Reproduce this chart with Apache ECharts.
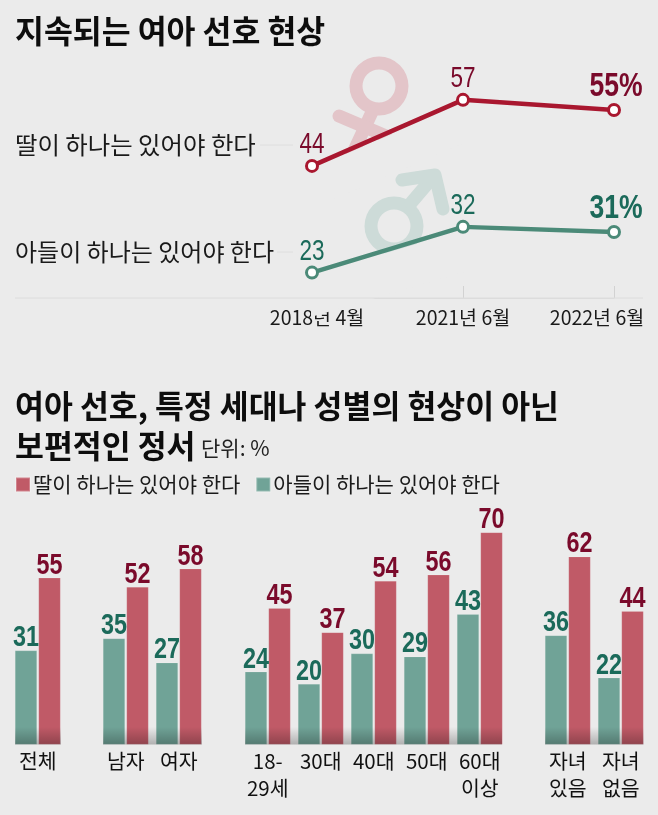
<!DOCTYPE html>
<html><head><meta charset="utf-8">
<style>html,body{margin:0;padding:0;background:#ebebeb}#c{width:658px;height:815px}</style>
<script src="https://cdn.jsdelivr.net/npm/echarts@6/dist/echarts.min.js"></script>
</head><body><div id="c"></div>
<script>
const DAUGHTER = '딸이 하나는 있어야 한다';
const SON = '아들이 하나는 있어야 한다';
const periods = ['2018년 4월', '2021년 6월', '2022년 6월'];
const trendDaughter = [44, 57, 55];
const trendSon = [23, 32, 31];

const totalCats = ['전체'];
const totalSon = [31];
const totalDaughter = [55];
const genderCats = ['남자', '여자'];
const genderSon = [35, 27];
const genderDaughter = [52, 58];
const ageCats = ['18-\n29세', '30대', '40대', '50대', '60대\n이상'];
const ageSon = [24, 20, 30, 29, 43];
const ageDaughter = [45, 37, 54, 56, 70];
const childCats = ['자녀\n있음', '자녀\n없음'];
const childSon = [36, 22];
const childDaughter = [62, 44];

const BG = '#ebebeb';
const KR = '"Noto Sans CJK KR",sans-serif';
const RED_TXT = '#7a0a2b', GREEN_TXT = '#1b6a5a';

const groups = [
  {cats: totalCats, son: totalSon, dau: totalDaughter, left: 11.25},
  {cats: genderCats, son: genderSon, dau: genderDaughter, left: 99.25},
  {cats: ageCats, son: ageSon, dau: ageDaughter, left: 241.25},
  {cats: childCats, son: childSon, dau: childDaughter, left: 541.25}
];
const grids = [{left: 312, width: 302, top: 64.3, height: 233.7}];
const xAxes = [{
  gridIndex: 0, type: 'category', boundaryGap: false,
  data: [
    {value: periods[0], textStyle: {padding: [0, 0, 0, 10]}},
    {value: periods[1]},
    {value: periods[2], textStyle: {padding: [0, 34, 0, 0]}}
  ],
  axisLine: {lineStyle: {color: '#dcdcdc', width: 1}},
  axisTick: {inside: true, length: 12, lineStyle: {color: '#d2d2d2'}},
  axisLabel: {interval: 0, margin: 10, hideOverlap: false, fontFamily: KR, fontSize: 19.5, color: '#1a1a1a'}
}];
const yAxes = [{gridIndex: 0, type: 'value', min: 18, max: 64, show: false}];

/* condensed number labels: the reference type is narrow, so text is squeezed horizontally */
const textItem = (cx, cy, text, font, fill, sx) => ({
  type: 'text', x: cx, y: cy, scaleX: sx, silent: true,
  style: {text, font, fill, align: 'center', verticalAlign: 'middle'}
});
const trendLabels = (name, vals, color) => ({
  name, type: 'custom', xAxisIndex: 0, yAxisIndex: 0, z: 6, animation: false, silent: true,
  data: vals.map((v, i) => [i, v]),
  renderItem: (params, api) => {
    const p = api.coord([api.value(0), api.value(1)]);
    const last = api.value(0) === vals.length - 1;
    return last
      ? textItem(p[0] + 2, p[1] - 23.5, api.value(1) + '%', 'bold 34px "Liberation Sans"', color, 0.78)
      : textItem(p[0], p[1] - 21, String(api.value(1)), '30px "Liberation Sans"', color, 0.75);
  }
});
const lineSeries = (name, vals, color) => ({
  name, type: 'line', xAxisIndex: 0, yAxisIndex: 0, data: vals,
  symbol: 'circle', symbolSize: 11, showSymbol: true,
  lineStyle: {color, width: 4.5},
  itemStyle: {color: '#fff', borderColor: color, borderWidth: 3},
  z: 5, animation: false
});
const series = [
  lineSeries('딸 추이', trendDaughter, '#a9172f'),
  lineSeries('아들 추이', trendSon, '#4b8a78'),
  trendLabels('딸 수치', trendDaughter, RED_TXT),
  trendLabels('아들 수치', trendSon, GREEN_TXT)
];
const barSeries = (name, vals, idx, color) => ({
  name, type: 'bar', xAxisIndex: idx, yAxisIndex: idx, data: vals,
  barWidth: 22, barGap: '7%', animation: false,
  itemStyle: {color, borderColor: 'rgba(255,255,255,0.25)', borderWidth: 0.5}
});
const barLabels = (name, vals, idx, color, dx) => ({
  name, type: 'custom', xAxisIndex: idx, yAxisIndex: idx, z: 6, animation: false, silent: true,
  data: vals.map((v, i) => [i, v]),
  renderItem: (params, api) => {
    const p = api.coord([api.value(0), api.value(1)]);
    return textItem(p[0] + dx, p[1] - 12.5, String(api.value(1)), 'bold 30px "Liberation Sans"', color, 0.78);
  }
});
groups.forEach((g, k) => {
  const idx = k + 1;
  grids.push({left: g.left, width: 53 * g.cats.length, top: 502.1, height: 242.4});
  xAxes.push({
    gridIndex: idx, type: 'category', data: g.cats,
    axisLine: {show: false}, axisTick: {show: false},
    axisLabel: {interval: 0, margin: 3, fontFamily: KR, fontSize: 20.5, lineHeight: 27, color: '#111', hideOverlap: false}
  });
  yAxes.push({gridIndex: idx, type: 'value', min: 0, max: 80, show: false});
  series.push(barSeries(SON, g.son, idx, '#70a397'));
  series.push(barSeries(DAUGHTER, g.dau, idx, '#c05a67'));
  series.push(barLabels('아들 수치 ' + k, g.son, idx, GREEN_TXT, -11.75));
  series.push(barLabels('딸 수치 ' + k, g.dau, idx, RED_TXT, 11.75));
});

const txt = (x, y, text, size, color) => ({
  type: 'text', x, y, z: 6, style: {text, fontSize: size, fontFamily: KR, fill: color, verticalAlign: 'middle'}
});
const shade = (x, w) => ({
  type: 'rect', z: 10, silent: true, shape: {x, y: 727, width: w, height: 17.5},
  style: {fill: {type: 'linear', x: 0, y: 0, x2: 0, y2: 1, colorStops: [{offset: 0, color: 'rgba(0,0,0,0)'}, {offset: 1, color: 'rgba(0,0,0,0.25)'}]}}
});
const FEM = '#e3c5c9', MAL = '#cddbd8';
const stroke = (pts, color, w) => ({
  type: 'polyline', z: 0, shape: {points: pts}, style: {stroke: color, lineWidth: w, lineCap: 'round', lineJoin: 'round', fill: null}
});
const graphicEls = [
  {type: 'ring', z: 0, shape: {cx: 379, cy: 86, r: 29.5, r0: 16.5}, style: {fill: FEM}},
  stroke([[372, 112], [352, 155]], FEM, 13),
  stroke([[339, 116], [386, 136]], FEM, 13),
  {type: 'polygon', z: 1, shape: {points: [[311, 169], [464, 103], [464, 143], [311, 209]]}, style: {fill: BG}},
  {type: 'ring', z: 0, shape: {cx: 394, cy: 226, r: 29.5, r0: 16.5}, style: {fill: MAL}},
  stroke([[411, 203], [434, 176]], MAL, 13),
  stroke([[402, 180], [435, 175], [443, 209]], MAL, 13),
  {type: 'polygon', z: 1, shape: {points: [[311, 275], [464, 230], [464, 272], [311, 317]]}, style: {fill: BG}},
  {type: 'line', z: 2, shape: {x1: 15, y1: 298, x2: 643, y2: 298}, style: {stroke: '#dcdcdc', lineWidth: 1}},
  {type: 'line', z: 2, shape: {x1: 260, y1: 145, x2: 293, y2: 145}, style: {stroke: '#dedede', lineWidth: 1}},
  {type: 'line', z: 2, shape: {x1: 277, y1: 252, x2: 293, y2: 252}, style: {stroke: '#dedede', lineWidth: 1}},
  txt(15, 145, DAUGHTER, 24.4, '#1a1a1a'),
  txt(15, 252, SON, 24, '#1a1a1a'),
  txt(201, 448, '단위: %', 21, '#222'),
  shade(15, 46), shade(103, 99), shade(245, 257), shade(545, 98.5)
];

const titleStyle = {fontFamily: KR, fontSize: 31.4, fontWeight: 'bold', color: '#0d0d0d'};
const chart = echarts.init(document.getElementById('c'), null, {renderer: 'canvas'});
chart.setOption({
  backgroundColor: BG,
  animation: false,
  title: [
    {text: '지속되는 여아 선호 현상', left: 15, top: 15, padding: 0, textStyle: titleStyle},
    {text: '여아 선호, 특정 세대나 성별의 현상이 아닌\n보편적인 정서', left: 15, top: 386, padding: 0, textStyle: Object.assign({lineHeight: 40}, titleStyle)}
  ],
  legend: {
    data: [{name: DAUGHTER, icon: 'rect'}, {name: SON, icon: 'rect'}],
    left: 15, top: 474, padding: 0, itemWidth: 14, itemHeight: 14, itemGap: 15, selectedMode: false,
    textStyle: {fontFamily: KR, fontSize: 21, color: '#1a1a1a', padding: [0, 0, 0, -2]}
  },
  grid: grids, xAxis: xAxes, yAxis: yAxes, series,
  graphic: {elements: graphicEls}
});
</script></body></html>
